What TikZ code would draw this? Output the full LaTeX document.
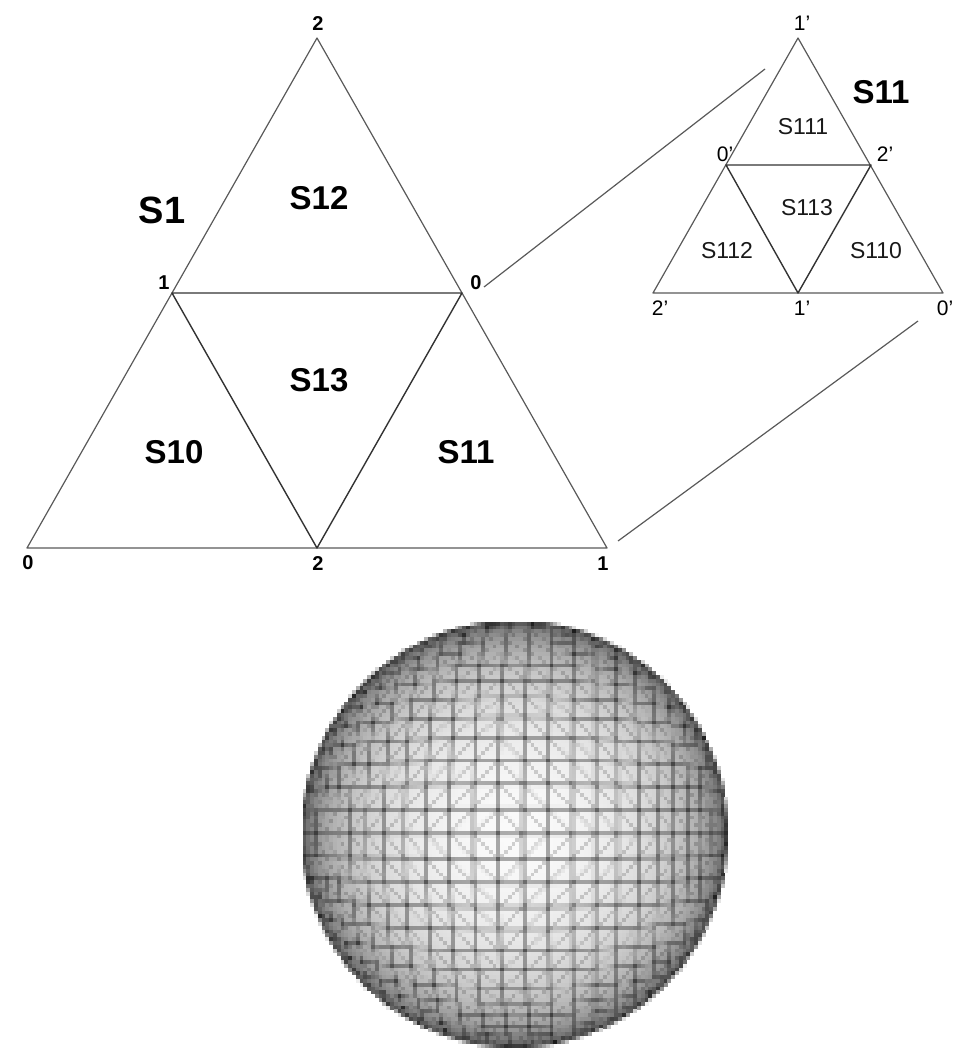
\documentclass[tikz,border=0pt]{standalone}
\usepackage{fontspec}
\setmainfont{Liberation Sans}
\usetikzlibrary{calc}
\tikzset{
  edge/.style={draw=black!65,line width=1.2pt,line join=round},
  inner edge/.style={draw=black!80,line width=1.4pt,line join=round},
  big/.style={font=\bfseries\fontsize{38}{40}\selectfont,inner sep=0pt},
  face/.style={font=\bfseries\fontsize{33}{35}\selectfont,inner sep=0pt},
  small face/.style={font=\fontsize{23}{25}\selectfont,inner sep=0pt,text=black!90},
  corner/.style={font=\bfseries\fontsize{20}{22}\selectfont,inner sep=0pt},
  corner prime/.style={font=\fontsize{21}{23}\selectfont,inner sep=0pt},
}
% pixel-mesh sphere: subdivided octahedron, seen in perspective
\def\Cx{514.5}\def\Cy{834}\def\Rad{212}\def\Ps{3.8}
\newcommand{\spherepixels}{%
 \foreach \j in {0,...,111}{%
  \edef\vv{\fpeval{1-(\j+.5)*\Ps/\Rad}}%
  \edef\ypos{\fpeval{-(\Cy-\Rad+(\j+1)*\Ps)}}%
  \foreach \i in {0,...,111}{%
   \edef\uu{\fpeval{(\i+.5)*\Ps/\Rad-1}}%
   \edef\rr{\fpeval{\uu*\uu+\vv*\vv}}%
   \ifnum\fpeval{\rr<1.03}=1
    \ifnum\fpeval{\rr<1}=1
     \edef\qq{\fpeval{1+0.034188*\rr}}%
     \edef\ss{\fpeval{(5.5-sqrt(30.25-\qq*29.25))/\qq}}%
     \edef\xx{\fpeval{\ss*0.1849*\uu}}%
     \edef\zz{\fpeval{5.5-\ss}}%
     \edef\MX{\fpeval{abs(\xx*0.99792+\zz*0.06453)}}%
     \edef\MY{\fpeval{abs(\ss*0.1849*\vv)}}%
     \edef\LA{\fpeval{10.186*asin(min(1,\MX))}}%
     \edef\LB{\fpeval{10.186*asin(min(1,\MY))}}%
     \edef\LC{\fpeval{\LA+\LB}}%
     \edef\val{\fpeval{round((0.1+0.88*(1-\rr)^0.3)
       *(1-0.33*max(0,min(1,(0.12-abs(\LA-round(\LA)))/0.08)))
       *(1-0.33*max(0,min(1,(0.12-abs(\LB-round(\LB)))/0.08)))
       *(1-0.17*max(0,min(1,(0.12-abs(\LC-round(\LC)))/0.08))),3)}}%
    \else
     \edef\val{\fpeval{round(0.25+0.7*(\rr-1)/0.03,3)}}%
    \fi
    \definecolor{pix}{gray}{\val}%
    \pgfsetfillcolor{pix}%
    \pgfpathrectangle{\pgfqpoint{\fpeval{\Cx-\Rad+\i*\Ps}pt}{\ypos pt}}{\pgfqpoint{4pt}{4pt}}%
    \pgfusepathqfill
   \fi
  }%
 }%
}
\begin{document}
\begin{tikzpicture}[x=1pt,y=-1pt]
\useasboundingbox (0,0) rectangle (954,1055);
\begin{scope}
\spherepixels
\end{scope}
% large triangle
\coordinate (T) at (317,38);
\coordinate (L) at (27,548);
\coordinate (R) at (607,548);
\coordinate (ML) at (172,293);
\coordinate (MR) at (462,293);
\coordinate (MB) at (317,548);
\draw[edge] (T) -- (L) -- (R) -- cycle;
\draw[inner edge] (ML) -- (MR) -- (MB) -- cycle;
% small triangle
\coordinate (t) at (798,38);
\coordinate (l) at (653,293);
\coordinate (r) at (943,293);
\coordinate (ml) at (726,165);
\coordinate (mr) at (871,165);
\coordinate (mb) at (798,293);
\draw[edge] (t) -- (l) -- (r) -- cycle;
\draw[inner edge] (ml) -- (mr) -- (mb) -- cycle;
% zoom connectors
\coordinate (z1a) at (484,287);
\coordinate (z1b) at (765,69);
\coordinate (z2a) at (618,541);
\coordinate (z2b) at (918,321);
\draw[edge] (z1a) -- (z1b);
\draw[edge] (z2a) -- (z2b);
% labels left
\node[big] (s1) at (162,210) {S1};
\node[face] (s12) at (319,198) {S12};
\node[face] (s13) at (319,380) {S13};
\node[face] (s10) at (174,452) {S10};
\node[face] (s11) at (466,452) {S11};
\node[corner] (c1) at (318,24) {2};
\node[corner] (c2) at (164,283) {1};
\node[corner] (c3) at (476,283) {0};
\node[corner] (c4) at (28,563) {0};
\node[corner] (c5) at (318,564) {2};
\node[corner] (c6) at (603,564) {1};
% labels right
\node[face] (S11) at (881,92) {S11};
\node[small face] (s111) at (803,127) {S111};
\node[small face] (s113) at (807,208) {S113};
\node[small face] (s112) at (727,251) {S112};
\node[small face] (s110) at (876,251) {S110};
\node[corner prime] (p1) at (802,23) {1’};
\node[corner prime] (p2) at (725,154) {0’};
\node[corner prime] (p3) at (885,154) {2’};
\node[corner prime] (p4) at (660,308) {2’};
\node[corner prime] (p5) at (802,308) {1’};
\node[corner prime] (p6) at (945,308) {0’};
\end{tikzpicture}
\end{document}
